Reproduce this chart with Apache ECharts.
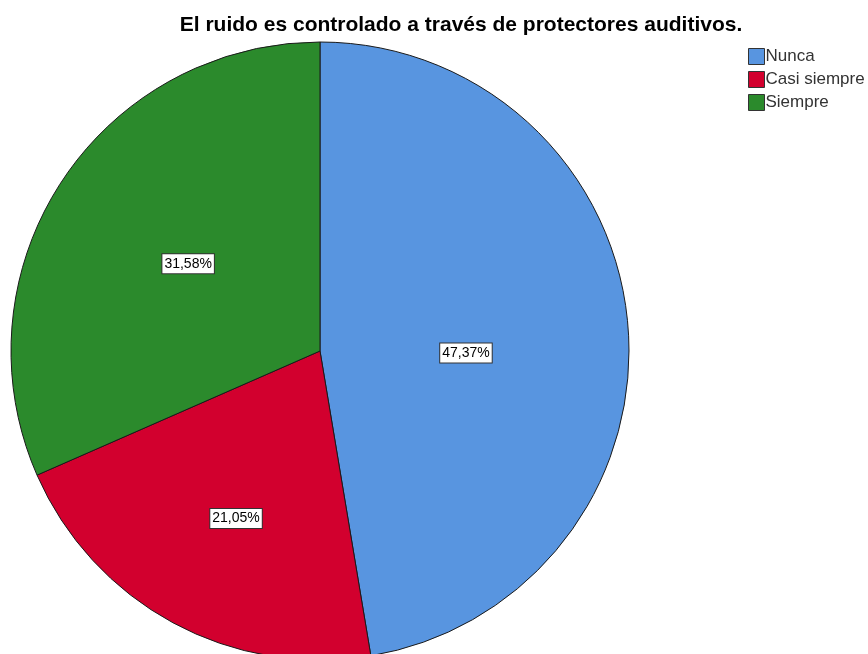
<!DOCTYPE html>
<html>
<head>
<meta charset="utf-8">
<script src="https://cdn.jsdelivr.net/npm/echarts@6/dist/echarts.min.js"></script>
<style>
  html, body { margin: 0; padding: 0; background: #fff; }
  #chart { width: 868px; height: 654px; }
</style>
</head>
<body>
<div id="chart"></div>
<script>
// data (19 answers)
const categories = ['Nunca', 'Casi siempre', 'Siempre']
const counts = [9, 4, 6]
const percentLabels = ['47,37%', '21,05%', '31,58%']
const colors = ['#5895E0', '#D2002E', '#2B8A2C']
// small nudges so the labels sit where the original puts them
const labelOffsets = [[-11, 15], [-9, 29], [0, -1]]

const chart = echarts.init(document.getElementById('chart'))

chart.setOption({
  animation: false,
  title: {
    text: 'El ruido es controlado a través de protectores auditivos.',
    left: 456,
    top: 10,
    textAlign: 'center',
    textStyle: {
      fontFamily: 'Liberation Sans',
      fontSize: 21,
      fontWeight: 'bold',
      color: '#000'
    }
  },
  legend: {
    orient: 'vertical',
    left: 743,
    top: 43,
    itemGap: 6,
    itemWidth: 16,
    itemHeight: 16,
    icon: 'rect',
    data: categories,
    itemStyle: {
      borderColor: '#333',
      borderWidth: 1
    },
    textStyle: {
      fontFamily: 'Liberation Sans',
      fontSize: 17,
      color: '#333',
      padding: [0, 0, 0, -4]
    }
  },
  series: [
    {
      type: 'pie',
      center: [320, 351],
      radius: 309,
      startAngle: 90,
      clockwise: true,
      silent: true,
      itemStyle: {
        borderColor: '#1a1a1a',
        borderWidth: 1
      },
      labelLine: { show: false },
      label: {
        position: 'inside',
        fontFamily: 'Liberation Sans',
        fontSize: 14,
        color: '#000',
        backgroundColor: '#fff',
        borderColor: '#333',
        borderWidth: 1,
        padding: [3, 2, 2, 2]
      },
      data: categories.map((name, i) => ({
        name: name,
        value: counts[i],
        itemStyle: { color: colors[i] },
        label: { formatter: percentLabels[i], offset: labelOffsets[i] }
      }))
    }
  ]
})
</script>
</body>
</html>
